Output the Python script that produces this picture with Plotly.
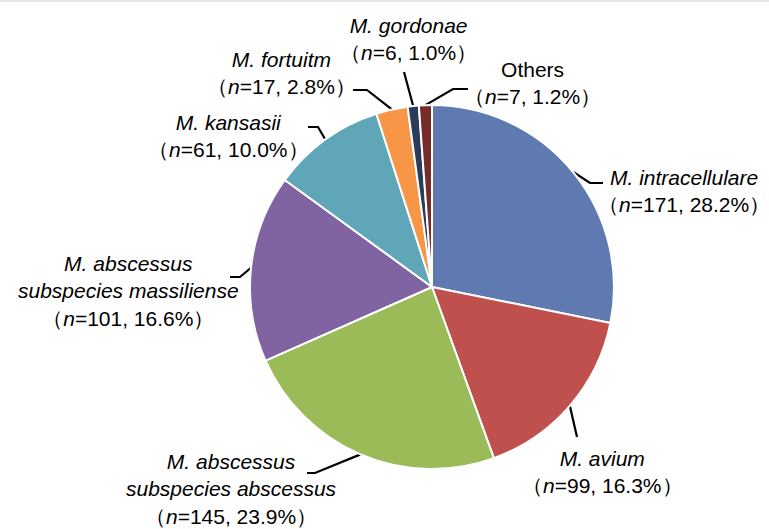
import math
import plotly.graph_objects as go

# ---- data ----
species = ["M. intracellulare", "M. avium", "M. abscessus subspecies abscessus",
           "M. abscessus subspecies massiliense", "M. kansasii", "M. fortuitm",
           "M. gordonae", "Others"]
label_lines = [["<i>M. intracellulare</i>"], ["<i>M. avium</i>"],
               ["<i>M. abscessus</i>", "<i>subspecies abscessus</i>"],
               ["<i>M. abscessus</i>", "<i>subspecies massiliense</i>"],
               ["<i>M. kansasii</i>"], ["<i>M. fortuitm</i>"],
               ["<i>M. gordonae</i>"], ["Others"]]
counts = [171, 99, 145, 101, 61, 17, 6, 7]
percents = ["28.2", "16.3", "23.9", "16.6", "10.0", "2.8", "1.0", "1.2"]

# ---- style / layout ----
colors = ["#5F7AB0", "#C0504D", "#9BBB59", "#8064A2", "#5FA6B8", "#F79646", "#2A3B5C", "#772C2A"]
W, H = 769, 529
CX, CY, R = 432, 287, 182
# label block centres (px) and leader bend/end points (px)
label_pos = [(684, 191), (602, 472), (231, 489), (128, 291), (228, 136), (281, 73), (408, 39), (532, 83)]
leader_pts = [[(590, 183), (603, 183)], [(577, 437)], [(315, 473), (307, 473)],
              [(240, 277), (230, 277)], [(318, 127), (308, 127)], [(367, 90), (353, 90)],
              [(404, 72)], [(453, 89), (468, 89)]]
FONT = "Arial, Liberation Sans, sans-serif"
FS = 21

fig = go.Figure()
fig.add_trace(go.Pie(
    labels=species, values=counts, sort=False, direction="clockwise", rotation=0,
    marker=dict(colors=colors, line=dict(color="white", width=2)),
    textinfo="none", showlegend=False,
    domain=dict(x=[(CX - R) / W, (CX + R) / W], y=[(H - CY - R) / H, (H - CY + R) / H]),
))

total = sum(counts)
cum = 0
for i, c in enumerate(counts):
    mid = (cum + c / 2) / total * 2 * math.pi
    cum += c
    sx = CX + R * math.sin(mid)
    sy = CY - R * math.cos(mid)
    xs = [sx] + [p[0] for p in leader_pts[i]]
    ys = [sy] + [p[1] for p in leader_pts[i]]
    fig.add_trace(go.Scatter(x=xs, y=ys, mode="lines", line=dict(color="black", width=2.2),
                             showlegend=False, hoverinfo="skip"))
    text = "<br>".join(label_lines[i] + [f"（<i>n</i>={c}, {percents[i]}%）"])
    fig.add_annotation(x=label_pos[i][0], y=label_pos[i][1], xref="x", yref="y",
                       text=text, showarrow=False, align="center",
                       xanchor="center", yanchor="middle",
                       font=dict(family=FONT, size=FS, color="black"))

fig.add_shape(type="line", xref="paper", yref="paper", x0=0, x1=1, y0=0.998, y1=0.998,
              line=dict(color="#E6E6E6", width=2))

fig.update_layout(
    width=W, height=H, margin=dict(l=0, r=0, t=0, b=0),
    paper_bgcolor="white", plot_bgcolor="white",
    xaxis=dict(range=[0, W], visible=False, fixedrange=True),
    yaxis=dict(range=[H, 0], visible=False, fixedrange=True),
    font=dict(family=FONT, size=FS),
)
fig.write_html("out.html", config={"displayModeBar": False},
               post_script="document.body.style.margin='0px';document.body.style.overflow='hidden';")
